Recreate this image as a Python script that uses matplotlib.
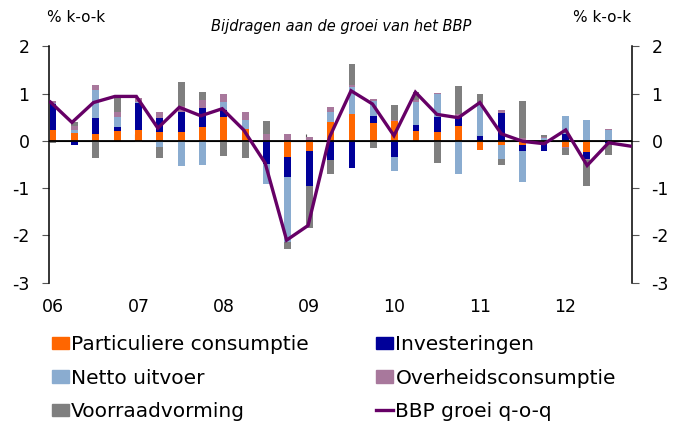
import numpy as np
import matplotlib
matplotlib.use("Agg")
import matplotlib.pyplot as plt
from matplotlib.patches import Patch
from matplotlib.lines import Line2D

plt.rcParams['font.family'] = ['DejaVu Sans']

# Quarters 2006Q1 .. 2012Q4
year_labels = ["06", "07", "08", "09", "10", "11", "12"]

# Contributions (2006Q1 .. 2012Q3), %-points
particuliere = [0.22, 0.16, 0.14, 0.20, 0.24, 0.18, 0.19, 0.29, 0.51, 0.25,
                0.00, -0.34, -0.21, 0.39, 0.56, 0.38, 0.41, 0.20, 0.19, 0.31,
                -0.19, -0.08, -0.085, -0.02, -0.12, -0.24, 0.00]
investeringen = [0.56, -0.08, 0.345, 0.085, 0.56, 0.30, 0.415, 0.40, 0.14, 0.00,
                 -0.49, -0.415, -0.75, -0.415, -0.58, 0.155, -0.345, 0.13, 0.31, 0.225,
                 0.11, 0.585, -0.135, -0.20, 0.15, -0.14, -0.04]
netto_uitvoer = [0.02, 0.065, 0.60, 0.23, 0.03, -0.12, -0.535, -0.52, 0.18, 0.20,
                 -0.42, -1.39, 0.00, 0.23, 0.57, 0.30, -0.30, 0.50, 0.49, -0.70,
                 0.67, -0.31, -0.64, 0.06, 0.37, 0.44, 0.23]
overheid = [0.05, 0.09, 0.09, 0.10, 0.08, 0.12, 0.14, 0.17, 0.155, 0.155,
            0.15, 0.15, 0.08, 0.10, 0.06, 0.04, 0.035, 0.035, 0.02, 0.04,
            0.03, 0.07, 0.06, 0.03, -0.035, -0.035, 0.02]
voorraad = [-0.05, 0.09, -0.37, 0.30, -0.02, -0.24, 0.49, 0.18, -0.31, -0.37,
            0.28, -0.14, -0.89, -0.28, 0.44, -0.15, 0.32, 0.16, -0.47, 0.58,
            0.18, -0.12, 0.78, 0.04, -0.14, -0.55, -0.25]
# GDP growth q-o-q (2006Q1 .. 2012Q4)
bbp = [0.82, 0.39, 0.81, 0.94, 0.94, 0.27, 0.71, 0.53, 0.68, 0.23,
       -0.47, -2.10, -1.79, 0.08, 1.06, 0.78, 0.11, 1.03, 0.56, 0.49,
       0.81, 0.15, -0.01, -0.06, 0.23, -0.52, -0.04, -0.11]

series = [
    ("Particuliere consumptie", particuliere, "#FF6600"),
    ("Investeringen", investeringen, "#000099"),
    ("Netto uitvoer", netto_uitvoer, "#8AACD0"),
    ("Overheidsconsumptie", overheid, "#A8789C"),
    ("Voorraadvorming", voorraad, "#7F7F7F"),
]
line_color = "#660066"

fig = plt.figure(figsize=(6.73, 4.21), dpi=100)
ax = fig.add_axes([0.0728, 0.3285, 0.8663, 0.5615])

n_bars = len(particuliere)
xb = np.arange(n_bars)
pos_base = np.zeros(n_bars)
neg_base = np.zeros(n_bars)
for name, vals, col in series:
    v = np.array(vals, dtype=float)
    bottoms = np.where(v >= 0, pos_base, neg_base)
    ax.bar(xb, v, width=0.32, bottom=bottoms, color=col, zorder=2,
           edgecolor='none')
    pos_base = pos_base + np.where(v >= 0, v, 0)
    neg_base = neg_base + np.where(v < 0, v, 0)

ax.axhline(0, color='black', lw=1.3, zorder=3)

ax.set_xlim(-0.19, 27.12)
ax.set_ylim(-3, 2)
ax.set_yticks([2, 1, 0, -1, -2, -3])
ax.set_yticklabels(["2", "1", "0", "-1", "-2", "-3"])
ax.tick_params(axis='y', left=True, right=True, labelleft=True, labelright=True,
               direction='out', length=5, width=0.8, color='#555555',
               labelsize=12.5, pad=9)
ax.set_xticks(np.arange(0, n_bars, 4))
ax.set_xticklabels(year_labels)
ax.tick_params(axis='x', length=0, labelsize=12.5, pad=11)
for s in ['top', 'bottom']:
    ax.spines[s].set_visible(False)
for s in ['left', 'right']:
    ax.spines[s].set_linewidth(1.1)

# small year ticks on the zero line
sec = ax.secondary_xaxis(0.6)
sec.set_xticks(np.arange(4, n_bars, 4) - 0.15)
sec.set_xticklabels([])
sec.tick_params(axis='x', direction='out', length=5, width=0.8, color='#555555')
sec.spines['bottom'].set_visible(False)

# line on its own x-scale
ax2 = ax.twiny()
ax2.set_xlim(-0.07, 27.09)
ax2.set_ylim(-3, 2)
ax2.plot(np.arange(len(bbp)), bbp, color=line_color, lw=2.4, zorder=5,
         solid_joinstyle='miter')
ax2.axis('off')

fig.text(0.507, 1 - 27 / 421, "Bijdragen aan de groei van het BBP",
         style='italic', ha='center', va='center', fontsize=10.5)
fig.text(76 / 673, 1 - 17 / 421, "% k-o-k", ha='center', va='center', fontsize=11)
fig.text(602 / 673, 1 - 17 / 421, "% k-o-k", ha='center', va='center', fontsize=11)

handles = [Patch(color=series[0][2]), Patch(color=series[2][2]), Patch(color=series[4][2]),
           Patch(color=series[1][2]), Patch(color=series[3][2]),
           Line2D([0], [0], color=line_color, lw=2.4)]
labels = [series[0][0], series[2][0], series[4][0],
          series[1][0], series[3][0], "BBP groei q-o-q"]
fig.legend(handles, labels, ncol=2, loc='upper left',
           bbox_to_anchor=(52 / 673, 1 - 335 / 421), frameon=False,
           fontsize=14.5, handlelength=0.85, handleheight=0.6, handletextpad=0.1,
           columnspacing=3.35, labelspacing=0.72, borderaxespad=0, borderpad=0)

fig.savefig("out.png", dpi=100)
